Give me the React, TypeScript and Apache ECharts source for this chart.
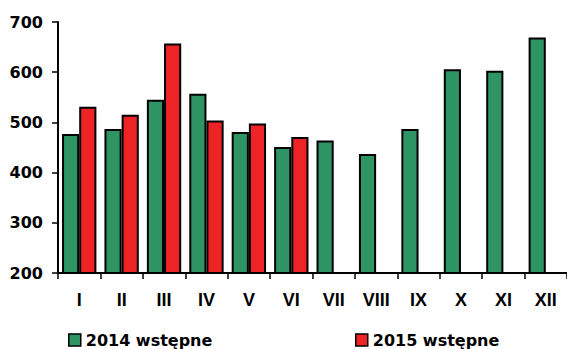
import React, { useEffect, useRef } from "react";
import * as echarts from "echarts";

const categories = ["I", "II", "III", "IV", "V", "VI", "VII", "VIII", "IX", "X", "XI", "XII"];
const values2014 = [477, 487, 545, 557, 481, 451, 464, 437, 487, 606, 603, 669];
const values2015: (number | null)[] = [531, 515, 657, 504, 498, 471, null, null, null, null, null, null];
const yTicks = { min: 200, max: 700, interval: 100 };
const seriesNames = ["2014 wstępne", "2015 wstępne"];

export default function App() {
  const ref = useRef<HTMLDivElement>(null);
  useEffect(() => {
    if (!ref.current) return;
    const chart = echarts.init(ref.current, undefined, { renderer: "svg" });
    const legendText = {
      fontFamily: "DejaVu Sans",
      fontWeight: "bold" as const,
      fontSize: 16,
      color: "#000",
    };
    chart.setOption({
      animation: false,
      backgroundColor: "#fff",
      grid: { left: 58, right: 0, top: 22, bottom: 76 },
      legend: [
        {
          data: [seriesNames[0]],
          left: 68,
          top: 332,
          icon: "rect",
          itemWidth: 12,
          itemHeight: 12,
          textStyle: legendText,
          itemStyle: { borderColor: "#000", borderWidth: 1.5 },
          padding: 0,
        },
        {
          data: [seriesNames[1]],
          left: 355,
          top: 332,
          icon: "rect",
          itemWidth: 12,
          itemHeight: 12,
          textStyle: legendText,
          itemStyle: { borderColor: "#000", borderWidth: 1.5 },
          padding: 0,
        },
      ],
      xAxis: {
        type: "category",
        data: categories,
        boundaryGap: true,
        axisLine: { lineStyle: { color: "#000", width: 2 } },
        axisTick: { show: true, length: 6, lineStyle: { color: "#000", width: 1.5 } },
        axisLabel: {
          fontFamily: "Liberation Sans",
          fontWeight: "bold",
          fontSize: 18,
          color: "#000",
          margin: 18,
          interval: 0,
        },
      },
      yAxis: {
        type: "value",
        min: yTicks.min,
        max: yTicks.max,
        interval: yTicks.interval,
        splitLine: { show: false },
        axisLine: { show: true, lineStyle: { color: "#000", width: 2 } },
        axisTick: { show: true, length: 6, lineStyle: { color: "#000", width: 1.5 } },
        axisLabel: {
          fontFamily: "DejaVu Sans",
          fontWeight: "bold",
          fontSize: 16,
          color: "#000",
          margin: 15,
        },
      },
      series: [
        {
          name: seriesNames[0],
          type: "bar",
          data: values2014,
          barGap: "0%",
          barCategoryGap: "19%",
          itemStyle: { color: "#2E9464", borderColor: "#000", borderWidth: 2 },
        },
        {
          name: seriesNames[1],
          type: "bar",
          data: values2015,
          barGap: "0%",
          barCategoryGap: "19%",
          itemStyle: { color: "#EE2326", borderColor: "#000", borderWidth: 2 },
        },
      ],
    });
    return () => chart.dispose();
  }, []);
  return (
    <div
      ref={ref}
      style={{ position: "fixed", left: 0, top: 0, width: 567, height: 349 }}
    />
  );
}
